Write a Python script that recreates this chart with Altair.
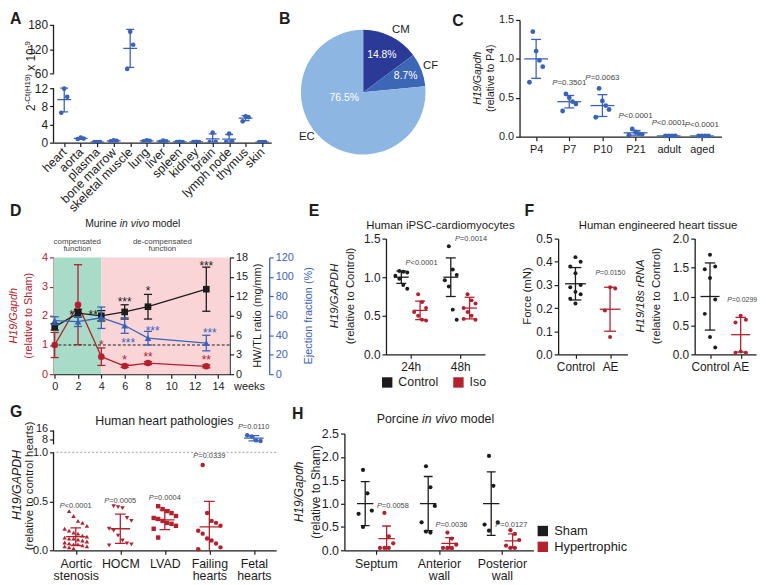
import altair as alt
import pandas as pd

FONT = "Liberation Sans"
BLUE = "#3a63b8"
RED = "#b3202e"
BLACK = "#1c1c1c"
GREY = "#444444"
GREEN_BG = "#a8dcc8"
PINK_BG = "#f9d5d8"
PIE_COLORS = ["#2b3a97", "#3c66b6", "#8db6e2"]

# ---------------- Panel A ----------------
A_TISSUES = ["heart", "aorta", "plasma", "bone marrow", "skeletal muscle", "lung", "liver",
             "spleen", "kidney", "brain", "lymph node", "thymus", "skin"]
A_POINTS = [[11.9, 10.1, 6.6], [1.1, 0.9, 0.8], [0.1, 0.1, 0.1], [0.5, 0.4, 0.3],
            [163, 131, 71], [0.5, 0.4, 0.3], [0.45, 0.3, 0.2], [0.2, 0.15, 0.1],
            [0.2, 0.15, 0.1], [2.2, 0.2, 0.1], [2.0, 0.3, 0.1], [5.8, 5.6, 4.7], [0.1, 0.1, 0.1]]
A_MEAN = [9.5, 0.93, 0.1, 0.4, 122, 0.4, 0.32, 0.15, 0.15, 0.83, 0.8, 5.4, 0.1]
A_SD = [2.7, 0.15, 0.02, 0.1, 47, 0.1, 0.12, 0.05, 0.05, 1.1, 1.0, 0.55, 0.02]

# ---------------- Panel B ----------------
B_CELLS = ["CM", "CF", "EC"]
B_SHARE = [14.8, 8.7, 76.5]

# ---------------- Panel C ----------------
C_AGES = ["P4", "P7", "P10", "P21", "adult", "aged"]
C_POINTS = [[1.35, 1.1, 0.98, 0.9, 0.7], [0.55, 0.5, 0.45, 0.42, 0.33],
            [0.62, 0.46, 0.4, 0.35, 0.25], [0.1, 0.06, 0.04, 0.03, 0.02],
            [0.01, 0.01, 0.01, 0.01], [0.01, 0.01, 0.01, 0.01]]
C_MEAN = [1.0, 0.45, 0.4, 0.05, 0.01, 0.01]
C_SD = [0.25, 0.08, 0.14, 0.03, 0.0, 0.0]
C_PVAL = ["P=0.3501", "P=0.0063", "P<0.0001", "P<0.0001", "P<0.0001"]
C_PVAL_X = [1, 2, 3, 4, 5]
C_PVAL_Y = [0.69, 0.75, 0.26, 0.17, 0.15]

# ---------------- Panel D ----------------
D_WEEKS = [0, 2, 4, 6, 8, 13]
D_H19_MEAN = [1.0, 2.38, 0.6, 0.28, 0.38, 0.27]
D_H19_SD = [0.43, 1.37, 0.3, 0.05, 0.05, 0.05]
D_HWTL_MEAN = [7.3, 9.4, 9.0, 9.6, 10.4, 13.1]
D_HWTL_SD = [0.5, 0.6, 0.8, 1.1, 1.9, 3.4]
D_EF_MEAN = [55, 54, 58, 50, 37, 32]
D_EF_SD = [4, 5, 11, 8, 7, 8]
D_H19_STARS = ["*", "*", "**", "**"]
D_H19_STAR_X = [4, 6, 8, 13]
D_H19_STAR_Y = [1.1, 0.57, 0.68, 0.57]
D_HWTL_STARS = ["*", "**", "***", "*", "***"]
D_HWTL_STAR_X = [1.45, 3.3, 6, 8, 13]
D_HWTL_STAR_Y = [9.6, 9.6, 11.6, 13.2, 17.1]
D_EF_STARS = ["***", "***", "***"]
D_EF_STAR_X = [6.3, 8.4, 13.3]
D_EF_STAR_Y = [35, 47, 45]
D_PHASES = [-0.1, 4, 15]

# ---------------- Panel E ----------------
E_TIMES = ["24h", "48h"]
E_CONTROL = [[1.08, 1.07, 1.06, 1.02, 0.98, 0.9, 0.85],
             [1.4, 1.1, 1.03, 0.96, 0.88, 0.58, 0.45]]
E_ISO = [[0.78, 0.68, 0.6, 0.55, 0.5, 0.45, 0.44],
         [0.78, 0.7, 0.66, 0.6, 0.55, 0.5, 0.45, 0.46]]
E_CTRL_MEAN = [1.0, 1.0]
E_CTRL_SD = [0.08, 0.25]
E_ISO_MEAN = [0.57, 0.6]
E_ISO_SD = [0.12, 0.14]
E_PVAL = ["P<0.0001", "P=0.0014"]
E_PVAL_X = [0.22, 1.22]
E_PVAL_Y = [1.19, 1.5]

# ---------------- Panel F ----------------
F_GROUPS = ["Control", "AE"]
F_FORCE = [[0.42, 0.4, 0.38, 0.35, 0.3, 0.29, 0.27, 0.26, 0.24, 0.22],
           [0.29, 0.285, 0.19, 0.075]]
F_FORCE_MEAN = [0.305, 0.195]
F_FORCE_SD = [0.07, 0.095]
F_RNA = [[1.72, 1.52, 1.47, 1.32, 0.95, 0.7, 0.3, 0.12],
         [0.67, 0.6, 0.55, 0.05, 0.03, 0.03]]
F_RNA_MEAN = [1.0, 0.34]
F_RNA_SD = [0.58, 0.3]
F_PVAL = ["P=0.0150", "P=0.0299"]

# ---------------- Panel G ----------------
G_PATH = ["Aortic stenosis", "HOCM", "LVAD", "Failing hearts", "Fetal hearts"]
G_POINTS = [
    [0.4, 0.35, 0.3, 0.28, 0.25, 0.22, 0.2, 0.18, 0.17, 0.15, 0.14, 0.13, 0.12, 0.12, 0.11,
     0.1, 0.09, 0.08, 0.07, 0.06, 0.06, 0.05, 0.04, 0.04, 0.03, 0.02],
    [0.45, 0.44, 0.43, 0.33, 0.3, 0.22, 0.2, 0.15, 0.1, 0.07, 0.06, 0.05],
    [0.45, 0.42, 0.4, 0.38, 0.35, 0.33, 0.32, 0.3, 0.28, 0.27, 0.25, 0.22, 0.13],
    [0.87, 0.38, 0.3, 0.28, 0.25, 0.2, 0.17, 0.12, 0.1, 0.07, 0.03, 0.01],
    [12, 11, 7.5, 7]]
G_MEAN = [0.14, 0.22, 0.31, 0.24, 9.4]
G_SD = [0.09, 0.15, 0.1, 0.26, 2.3]
G_SHAPES = ["triangle-up", "triangle-down", "square", "circle", "circle"]
G_PVAL = ["P<0.0001", "P=0.0005", "P=0.0004", "P=0.0339", "P=0.0110"]
G_PVAL_Y = [0.45, 0.5, 0.53, 0.965, 19]

# ---------------- Panel H ----------------
H_REGIONS = ["Septum", "Anterior wall", "Posterior wall"]
H_SHAM = [[1.72, 1.22, 0.85, 0.78, 0.5], [1.8, 1.35, 0.95, 0.6, 0.4, 0.38],
          [2.02, 1.38, 0.6, 0.55, 0.42]]
H_SHAM_MEAN = [1.0, 1.0, 1.0]
H_SHAM_SD = [0.47, 0.58, 0.68]
H_HYP = [[0.8, 0.3, 0.15, 0.05, 0.05, 0.05], [0.38, 0.25, 0.12, 0.05, 0.05, 0.05],
         [0.43, 0.35, 0.22, 0.1, 0.05, 0.05]]
H_HYP_MEAN = [0.25, 0.15, 0.2]
H_HYP_SD = [0.27, 0.12, 0.15]
H_PVAL = ["P=0.0058", "P=0.0036", "P=0.0127"]
H_PVAL_X = [0.27, 1.2, 2.15]
H_PVAL_Y = [0.95, 0.55, 0.55]

ONE = pd.DataFrame({"o": [0]})


# ---------------- helpers ----------------
def txt(text, x, y, size=11, color=BLACK, weight="normal", style="normal",
        angle=0, align="center", baseline="middle"):
    return alt.Chart(ONE).mark_text(
        text=text, fontSize=size, color=color, fontWeight=weight, fontStyle=style,
        angle=angle, align=align, baseline=baseline, font=FONT
    ).encode(x=alt.value(x), y=alt.value(y))


def letter(ch, x, y):
    return txt(ch, x, y, size=16, weight="bold", align="left", baseline="top")


def ax(**kw):
    base = dict(title=None, grid=False, domainColor=BLACK, tickColor=BLACK, labelColor=BLACK,
                domainWidth=1.3, tickWidth=1.2, tickSize=4, labelFont=FONT, labelFontSize=11,
                labelPadding=2, labelFlush=False, labelOverlap=False)
    base.update(kw)
    return alt.Axis(**base)


def lin(domain, rng=None):
    kw = dict(domain=domain, nice=False, zero=False)
    if rng is not None:
        kw["range"] = rng
    return alt.Scale(**kw)


def cat_expr(labels, split=False):
    arr = "[" + ",".join("'" + s + "'" for s in labels) + "]"
    e = arr + "[datum.value]"
    return "split(" + e + ", ' ')" if split else e


def pts_frame(groups, xs=None, grp="", colors=None, shapes=None):
    rows = []
    for i, vals in enumerate(groups):
        for v in vals:
            r = {"x": i if xs is None else xs[i], "g": f"{grp}{i}", "v": v, "grp": grp}
            if colors is not None:
                r["col"] = colors[i]
            if shapes is not None:
                r["shape"] = shapes[i]
            rows.append(r)
    return pd.DataFrame(rows)


def stat_frame(means, sds, xs=None, colors=None):
    n = len(means)
    return pd.DataFrame({"x": xs if xs is not None else list(range(n)), "m": means, "s": sds,
                         "col": colors if colors is not None else [BLACK] * n})


def dots(df, xsc, xax, ysc, yax, k, step, size, color=None, color_enc=None,
         shape="circle", shape_field=False, clip=False):
    ch = alt.Chart(df).transform_window(rn="row_number()", groupby=["g"]).transform_calculate(
        xj=f"datum.x + ((datum.rn % {k}) - {(k - 1) / 2}) * {step}")
    enc = dict(x=alt.X("xj:Q", scale=xsc, axis=xax), y=alt.Y("v:Q", scale=ysc, axis=yax))
    if color_enc is not None:
        enc["color"] = color_enc
    if shape_field:
        enc["shape"] = alt.Shape("shape:N", scale=None)
    mk = dict(filled=True, size=size, opacity=1, clip=clip)
    if color is not None:
        mk["color"] = color
    if not shape_field:
        mk["shape"] = shape
    return ch.mark_point(**mk).encode(**enc)


def errs(df, xsc, xax, ysc, yax, mw, cw, color=None, sw=1.3, clip=False, mean=True):
    base = alt.Chart(df).transform_calculate(
        lo="datum.m - datum.s", hi="datum.m + datum.s",
        x1=f"datum.x - {mw}", x2=f"datum.x + {mw}",
        c1=f"datum.x - {cw}", c2=f"datum.x + {cw}")
    col = alt.value(color) if color else alt.Color("col:N", scale=None)
    mk = dict(strokeWidth=sw, clip=clip)
    out = [
        base.mark_rule(**mk).encode(x=alt.X("x:Q", scale=xsc, axis=xax),
                                    y=alt.Y("lo:Q", scale=ysc, axis=yax), y2="hi:Q", color=col),
        base.transform_fold(["lo", "hi"], as_=["kk", "cv"]).mark_rule(**mk).encode(
            x=alt.X("c1:Q", scale=xsc, axis=xax), x2="c2:Q",
            y=alt.Y("cv:Q", scale=ysc, axis=yax), color=col),
    ]
    if mean:
        out.append(base.mark_rule(**mk).encode(
            x=alt.X("x1:Q", scale=xsc, axis=xax), x2="x2:Q",
            y=alt.Y("m:Q", scale=ysc, axis=yax), color=col))
    return out


def ptext(xs, ys, texts, xsc, xax, ysc, yax, size=8, color=GREY):
    df = pd.DataFrame({"px": xs, "py": ys, "t": texts})
    w = size * 4.309
    wp = size * 0.667
    base = alt.Chart(df).transform_calculate(rest="substring(datum.t, 1)")
    enc = dict(x=alt.X("px:Q", scale=xsc, axis=xax), y=alt.Y("py:Q", scale=ysc, axis=yax))
    p = base.mark_text(fontSize=size, color=color, font=FONT, fontStyle="italic", align="left",
                       dx=-w / 2, baseline="middle").encode(text=alt.value("P"), **enc)
    r = base.mark_text(fontSize=size, color=color, font=FONT, align="left",
                       dx=-w / 2 + wp, baseline="middle").encode(text="rest:N", **enc)
    return [p, r]


def spacer(w, h=1):
    return alt.Chart(ONE).mark_point(opacity=0).encode(
        x=alt.X("o:Q", axis=None), y=alt.Y("o:Q", axis=None)).properties(width=w, height=h)


# ---------------- Panel A chart ----------------
A_W, A_H = 220, 124
a_xs = lin([-0.65, 12.55])
a_ys = lin([0, 12, 60, 180], [124, 69, 54, 5])
a_xax = ax(values=list(range(13)), labelExpr=cat_expr(A_TISSUES), labelAngle=315,
           labelAlign="right", labelBaseline="middle", labelFontSize=12.5, labelPadding=3)
a_yax = ax(values=[0, 4, 8, 12, 60, 120, 180], domain=False, labelFontSize=12, format="d")
a_axisline = alt.Chart(pd.DataFrame({"a": [0, 60], "b": [12, 180]})).mark_rule(
    strokeWidth=1.3, color=BLACK).encode(x=alt.value(0), y=alt.Y("a:Q", scale=a_ys, axis=a_yax),
                                         y2="b:Q")
a_title = [
    txt("2", -19, 92, 12, align="left", baseline="alphabetic", angle=270),
    txt("-Ct(H19)", -24, 85.3, 8, align="left", baseline="alphabetic", angle=270),
    txt("x 10", -19, 51.3, 12, align="left", baseline="alphabetic", angle=270),
    txt("-9", -24, 28.6, 8, align="left", baseline="alphabetic", angle=270),
]
A = alt.layer(
    a_axisline,
    *errs(stat_frame(A_MEAN, A_SD), a_xs, a_xax, a_ys, a_yax, 0.42, 0.24, color=BLUE, clip=True),
    dots(pts_frame(A_POINTS), a_xs, a_xax, a_ys, a_yax, 3, 0.18, 22, color=BLUE, clip=True),
    letter("A", -44, -9), *a_title
).properties(width=A_W, height=A_H)

# ---------------- Panel B chart ----------------
b_df = pd.DataFrame({"cell": B_CELLS, "share": B_SHARE, "ord": [0, 1, 2], "col": PIE_COLORS,
                     "pct": [f"{v}%" for v in B_SHARE]})
b_arc = alt.Chart(b_df).mark_arc(outerRadius=63).encode(
    theta=alt.Theta("share:Q", stack=True), order=alt.Order("ord:Q"),
    color=alt.Color("col:N", scale=None))
b_lab = alt.Chart(b_df).transform_window(
    cum="sum(share)", sort=[alt.SortField("ord")]).transform_calculate(
    mid="datum.cum - datum.share / 2",
    ang_in="datum.mid + (datum.cell == 'EC' ? 8.8 : 0)",
    r_in="datum.cell == 'EC' ? 20 : (datum.cell == 'CF' ? 46 : 42)",
    ang_out="datum.mid + (datum.cell == 'EC' ? 2.5 : (datum.cell == 'CM' ? 1.3 : 0))")
pie_theta = alt.Scale(domain=[0, 100], range=[0, 6.283185])
B = alt.layer(
    b_arc,
    b_lab.mark_text(color="white", fontSize=10.5, font=FONT).encode(
        theta=alt.Theta("ang_in:Q", scale=pie_theta), radius=alt.Radius("r_in:Q", scale=None),
        text="pct:N"),
    b_lab.mark_text(radius=73, color=BLACK, fontSize=11.5, font=FONT).encode(
        theta=alt.Theta("ang_out:Q", scale=pie_theta), text="cell:N"),
    letter("B", -2, -9)
).resolve_scale(theta="independent").properties(width=166, height=146)

# ---------------- Panel C chart ----------------
C_W, C_H = 204, 118
c_xs = lin([-0.5, 5.59])
c_ys = lin([0, 1.5])
c_xax = ax(values=list(range(6)), labelExpr=cat_expr(C_AGES), labelFontSize=11, labelPadding=3)
c_yax = ax(values=[0, 0.5, 1.0, 1.5], format=".1f", labelFontSize=11)
C = alt.layer(
    *errs(stat_frame(C_MEAN, C_SD), c_xs, c_xax, c_ys, c_yax, 0.36, 0.15, color=BLUE),
    dots(pts_frame(C_POINTS), c_xs, c_xax, c_ys, c_yax, 5, 0.1, 24, color=BLUE),
    *ptext(C_PVAL_X, C_PVAL_Y, C_PVAL, c_xs, c_xax, c_ys, c_yax, size=8),
    letter("C", -68, -7),
    txt("H19/Gapdh", -42, 59, 10.5, style="italic", angle=270),
    txt("(relative to P4)", -29, 59, 10.5, angle=270),
).properties(width=C_W, height=C_H)

# ---------------- Panel D chart ----------------
D_W, D_H = 178, 137
d_xs = lin([D_PHASES[0], D_PHASES[-1]])
d_xax = ax(values=list(range(0, 15, 2)), labelFontSize=11, title="weeks", titleX=D_W + 4,
           titleY=15, titleAlign="left", titleBaseline="alphabetic", titleFont=FONT,
           titleFontSize=11, titleFontWeight="normal", titleColor=BLACK)
d_rys = lin([0, 4], [137, 19])
d_ryax = ax(values=[0, 1, 2, 3, 4], format="d", domainColor=RED, tickColor=RED, labelColor=RED,
            labelFontSize=11)
d_bys = lin([0, 18], [137, 19])
d_byax = ax(orient="right", values=list(range(0, 19, 3)), format="d", labelFontSize=11)
d_uys = lin([0, 120], [137, 19])
d_uyax = ax(orient="right", offset=40, values=list(range(0, 121, 20)), format="d",
            domainColor=BLUE, tickColor=BLUE, labelColor=BLUE, labelFontSize=11)


def d_series(means, sds, ys, yax, color, shape, stars, star_x, star_y):
    df = pd.DataFrame({"x": D_WEEKS, "m": means, "s": sds})
    X = alt.X("x:Q", scale=d_xs, axis=d_xax)
    line = alt.Chart(df).mark_line(color=color, strokeWidth=1.3).encode(
        x=X, y=alt.Y("m:Q", scale=ys, axis=yax))
    pts = alt.Chart(df).mark_point(filled=True, shape=shape, size=45, color=color, opacity=1).encode(
        x=X, y=alt.Y("m:Q", scale=ys, axis=yax))
    st = alt.Chart(pd.DataFrame({"x": star_x, "y": star_y, "t": stars})).mark_text(
        color=color, fontSize=12, font=FONT, dy=3).encode(
        x=X, y=alt.Y("y:Q", scale=ys, axis=yax), text="t:N")
    return [line, *errs(df, d_xs, d_xax, ys, yax, 0, 0.35, color=color, mean=False), pts, st]


d_bg = alt.Chart(pd.DataFrame({"x0": D_PHASES[:-1], "x1": D_PHASES[1:],
                               "c": [GREEN_BG, PINK_BG]})).mark_rect().encode(
    x=alt.X("x0:Q", scale=d_xs, axis=d_xax), x2="x1:Q",
    y=alt.YDatum(4, scale=d_rys, axis=d_ryax), y2=alt.Y2Datum(0),
    color=alt.Color("c:N", scale=None))
d_dash = alt.Chart(ONE).mark_rule(strokeDash=[3, 2], color=BLACK, strokeWidth=1).encode(
    y=alt.YDatum(1, scale=d_rys, axis=d_ryax))
red_group = alt.layer(
    d_bg, d_dash,
    *d_series(D_H19_MEAN, D_H19_SD, d_rys, d_ryax, RED, "circle", D_H19_STARS, D_H19_STAR_X,
              D_H19_STAR_Y),
    letter("D", -44, -36),
    txt("Murine", 32, -15, 10.5, align="left"),
    txt("in vivo", 67, -15, 10.5, style="italic", align="left"),
    txt("model", 99.7, -15, 10.5, align="left"),
    txt("compensated", 24, 3, 8, color=GREY), txt("function", 24, 11, 8, color=GREY),
    txt("de-compensated", 110, 3, 8, color=GREY), txt("function", 110, 11, 8, color=GREY),
    txt("H19/Gapdh", -40, 78, 11, color=RED, style="italic", angle=270),
    txt("(relative to Sham)", -25, 78, 11, color=RED, angle=270),
    txt("HW/TL ratio (mg/mm)", D_W + 29, 78, 11, angle=270),
    txt("Ejection fraction (%)", D_W + 80, 78, 11, color=BLUE, angle=270),
)
black_group = alt.layer(*d_series(D_HWTL_MEAN, D_HWTL_SD, d_bys, d_byax, BLACK, "square",
                                  D_HWTL_STARS, D_HWTL_STAR_X, D_HWTL_STAR_Y))
blue_group = alt.layer(*d_series(D_EF_MEAN, D_EF_SD, d_uys, d_uyax, BLUE, "triangle-up",
                                 D_EF_STARS, D_EF_STAR_X, D_EF_STAR_Y))
D = alt.layer(red_group, black_group, blue_group).resolve_scale(y="independent").properties(
    width=D_W, height=D_H)

# ---------------- Panel E chart ----------------
E_W, E_H = 100, 117
E_OFF = {"Control": -0.19, "Iso": 0.19}
e_xs = lin([-0.5, 1.5])
e_ys = lin([0, 1.5])
e_xax = ax(values=[0, 1], labelExpr=cat_expr(E_TIMES), labelFontSize=12, labelPadding=3)
e_yax = ax(values=[0, 0.5, 1.0, 1.5], format=".1f", labelFontSize=12)
e_pts = pd.concat([
    pts_frame(E_CONTROL, xs=[i + E_OFF["Control"] for i in range(2)], grp="Control"),
    pts_frame(E_ISO, xs=[i + E_OFF["Iso"] for i in range(2)], grp="Iso")])
e_color = alt.Color("grp:N", scale=alt.Scale(domain=["Control", "Iso"], range=[BLACK, RED]),
                    legend=alt.Legend(title=None, orient="none", legendX=-5, legendY=139,
                                      direction="horizontal", symbolType="square",
                                      symbolSize=110, labelFontSize=12.5, labelFont=FONT,
                                      columnPadding=14, labelOffset=5, labelColor=BLACK))
E = alt.layer(
    dots(e_pts, e_xs, e_xax, e_ys, e_yax, 4, 0.08, 16, color_enc=e_color),
    *errs(stat_frame(E_CTRL_MEAN, E_CTRL_SD, xs=[i + E_OFF["Control"] for i in range(2)]),
          e_xs, e_xax, e_ys, e_yax, 0.15, 0.1, color=BLACK),
    *errs(stat_frame(E_ISO_MEAN, E_ISO_SD, xs=[i + E_OFF["Iso"] for i in range(2)]),
          e_xs, e_xax, e_ys, e_yax, 0.15, 0.1, color=RED),
    *ptext(E_PVAL_X, E_PVAL_Y, E_PVAL, e_xs, e_xax, e_ys, e_yax, size=7.5),
    letter("E", -78, -36),
    txt("Human iPSC-cardiomyocytes", 55, -13, 11.5),
    txt("H19/GAPDH", -51, 58, 11.5, style="italic", angle=270),
    txt("(relative to Control)", -35, 58, 11.5, angle=270),
).properties(width=E_W, height=E_H)

# ---------------- Panel F charts ----------------
F_H = 117
f_xs = lin([-0.5, 1.5])
f_xax = ax(values=[0, 1], labelExpr=cat_expr(F_GROUPS), labelFontSize=12, labelPadding=3)
f1_ys = lin([0, 0.5])
f1_yax = ax(values=[0, 0.1, 0.2, 0.3, 0.4, 0.5], format=".1f", labelFontSize=12)
F1 = alt.layer(
    *errs(stat_frame(F_FORCE_MEAN, F_FORCE_SD, colors=[BLACK, RED]), f_xs, f_xax, f1_ys, f1_yax,
          0.3, 0.17),
    dots(pts_frame(F_FORCE, colors=[BLACK, RED]), f_xs, f_xax, f1_ys, f1_yax, 3, 0.15, 16,
         color_enc=alt.Color("col:N", scale=None)),
    *ptext([1.01], [0.35], [F_PVAL[0]], f_xs, f_xax, f1_ys, f1_yax, size=7),
    letter("F", -34, -36),
    txt("Human engineered heart tissue", 101, -13, 11.5),
    txt("Force (mN)", -30, 58, 11.5, angle=270),
).properties(width=70, height=F_H)
f2_ys = lin([0, 2.0])
f2_yax = ax(values=[0, 0.5, 1.0, 1.5, 2.0], format=".1f", labelFontSize=12)
F2 = alt.layer(
    *errs(stat_frame(F_RNA_MEAN, F_RNA_SD, colors=[BLACK, RED]), f_xs, f_xax, f2_ys, f2_yax,
          0.31, 0.17),
    dots(pts_frame(F_RNA, colors=[BLACK, RED]), f_xs, f_xax, f2_ys, f2_yax, 3, 0.17, 16,
         color_enc=alt.Color("col:N", scale=None)),
    *ptext([1.05], [0.94], [F_PVAL[1]], f_xs, f_xax, f2_ys, f2_yax, size=7),
    txt("H19/18s rRNA", -54, 58, 11.5, style="italic", angle=270),
    txt("(relative to Control)", -38, 58, 11.5, angle=270),
).properties(width=62, height=F_H)

# ---------------- Panel G chart ----------------
G_W, G_H = 225, 121
g_xs = lin([-0.5, 4.5])
g_ys = lin([0, 1, 4, 16], [121, 22, 14, 0])
g_xax = ax(values=list(range(5)), labelExpr=cat_expr(G_PATH, split=True), labelFontSize=12.5,
           labelLineHeight=13, labelPadding=3)
g_yax = ax(values=[0, 0.5, 1, 8, 16], domain=False, labelFontSize=11,
           labelOffset={"condition": {"test": "datum.value == 16", "value": -2}, "value": 0},
           labelExpr="datum.value <= 1 ? format(datum.value, '.1f') : format(datum.value, 'd')")
G_COLORS = [RED, RED, RED, RED, BLUE]
g_axisline = alt.Chart(pd.DataFrame({"a": [0, 4], "b": [1, 16]})).mark_rule(
    strokeWidth=1.3, color=BLACK).encode(x=alt.value(0), y=alt.Y("a:Q", scale=g_ys, axis=g_yax),
                                         y2="b:Q")
g_dash = alt.Chart(ONE).mark_rule(strokeDash=[2, 2], color="#888888", strokeWidth=0.8).encode(
    y=alt.YDatum(1, scale=g_ys, axis=g_yax))
G = alt.layer(
    g_dash, g_axisline,
    *errs(stat_frame(G_MEAN, G_SD, colors=G_COLORS), g_xs, g_xax, g_ys, g_yax, 0.22, 0.12,
          clip=True),
    dots(pts_frame(G_POINTS, colors=G_COLORS, shapes=G_SHAPES), g_xs, g_xax, g_ys, g_yax, 6, 0.1,
         20, color_enc=alt.Color("col:N", scale=None), shape_field=True),
    *ptext(list(range(5)), G_PVAL_Y, G_PVAL, g_xs, g_xax, g_ys, g_yax, size=7.5),
    letter("G", -44, -27),
    txt("Human heart pathologies", 112, -10, 12.5),
    txt("H19/GAPDH", -37, 55, 12.5, style="italic", angle=270),
    txt("(relative to control hearts)", -24, 56, 11.5, angle=270),
).properties(width=G_W, height=G_H)

# ---------------- Panel H chart ----------------
H_W, H_H = 191, 121
H_OFF = {"Sham": -0.17, "Hypertrophic": 0.17}
h_xs = lin([-0.5, 2.5])
h_ys = lin([0, 2.5], [121, 3])
h_xax = ax(values=[0, 1, 2], labelExpr=cat_expr(H_REGIONS, split=True), labelFontSize=12.5,
           labelLineHeight=13, labelPadding=3)
h_yax = ax(values=[0, 0.5, 1.0, 1.5, 2.0, 2.5], format=".1f", labelFontSize=12.5)
h_pts = pd.concat([
    pts_frame(H_SHAM, xs=[i + H_OFF["Sham"] for i in range(3)], grp="Sham"),
    pts_frame(H_HYP, xs=[i + H_OFF["Hypertrophic"] for i in range(3)], grp="Hypertrophic")])
h_color = alt.Color("grp:N", scale=alt.Scale(domain=["Sham", "Hypertrophic"], range=[BLACK, RED]),
                    legend=alt.Legend(title=None, orient="none", legendX=H_W + 3, legendY=95,
                                      direction="vertical", symbolType="square", symbolSize=110,
                                      labelFontSize=13, labelFont=FONT, rowPadding=2,
                                      labelOffset=5, labelColor=BLACK))
H = alt.layer(
    dots(h_pts, h_xs, h_xax, h_ys, h_yax, 4, 0.07, 18, color_enc=h_color),
    *errs(stat_frame(H_SHAM_MEAN, H_SHAM_SD, xs=[i + H_OFF["Sham"] for i in range(3)]),
          h_xs, h_xax, h_ys, h_yax, 0.13, 0.07, color=BLACK, clip=True),
    *errs(stat_frame(H_HYP_MEAN, H_HYP_SD, xs=[i + H_OFF["Hypertrophic"] for i in range(3)]),
          h_xs, h_xax, h_ys, h_yax, 0.13, 0.07, color=RED, clip=True),
    *ptext(H_PVAL_X, H_PVAL_Y, H_PVAL, h_xs, h_xax, h_ys, h_yax, size=7.5),
    letter("H", -53, -25),
    txt("Porcine", 32.6, -12, 12.5, align="left"),
    txt("in vivo", 78.5, -12, 12.5, style="italic", align="left"),
    txt("model", 117.4, -12, 12.5, align="left"),
    txt("H19/Gapdh", -46, 62, 12, style="italic", angle=270),
    txt("(relative to Sham)", -29, 62, 12, angle=270),
).properties(width=H_W, height=H_H)

# ---------------- layout ----------------
ROW_GAP = -20


def row(*charts):
    return alt.HConcatChart(hconcat=list(charts), spacing=0, bounds="flush").resolve_scale(
        color="independent", shape="independent").resolve_legend(color="independent")


row1 = row(A, spacer(10, 205), B, spacer(75), C)
row2 = row(D, spacer(158, 187), E, spacer(74), F1, spacer(68), F2)
row3 = row(G, spacer(69), H)

chart = alt.VConcatChart(vconcat=[row1, row2, row3], spacing=ROW_GAP, padding=0).resolve_scale(
    color="independent", shape="independent").resolve_legend(color="independent").configure(
    font=FONT).configure_view(stroke=None)

chart.save("out.html", embed_options={"renderer": "svg", "actions": False})
